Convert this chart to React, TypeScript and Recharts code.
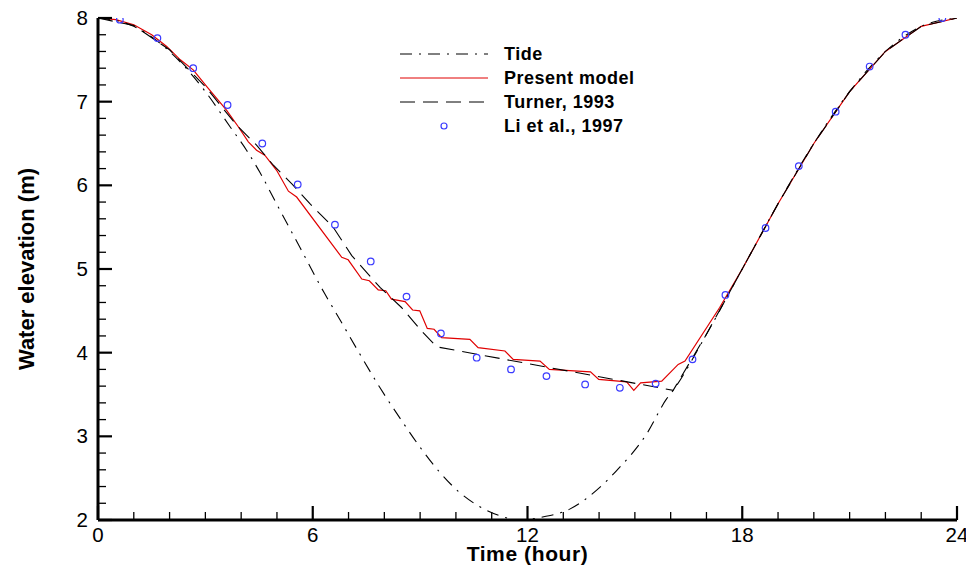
import { ComposedChart, Line, Scatter, XAxis, YAxis, Legend } from 'recharts';

// [time (hour), water elevation (m)]
const tide: [number, number][] = [
  [0, 8.0], [1, 7.9], [2, 7.6], [3, 7.12], [3.69, 6.7], [4.15, 6.42], [4.53, 6.15], [5, 5.77],
  [5.64, 5.26], [6.34, 4.7], [6.67, 4.46], [7.32, 3.98], [7.88, 3.58], [8.48, 3.19],
  [9.05, 2.84], [9.55, 2.57], [10.1, 2.33], [10.62, 2.17], [11.23, 2.05], [11.79, 2.0],
  [12.35, 2.03], [13.18, 2.13], [14.02, 2.39], [14.49, 2.59], [15.33, 3.03], [15.89, 3.45],
  [16.07, 3.55], [17, 4.22], [18, 5.0], [19, 5.78], [20, 6.5], [21, 7.12], [22, 7.6],
  [23, 7.9], [24, 8.0],
];

const presentModel: [number, number][] = [
  [0, 8.0], [0.5, 7.98], [1, 7.92], [1.5, 7.8], [1.92, 7.66], [2.3, 7.5], [2.66, 7.38],
  [3.04, 7.18], [3.59, 6.9], [3.92, 6.7], [4.2, 6.52], [4.43, 6.42], [4.66, 6.36],
  [4.99, 6.18], [5.32, 5.93], [5.55, 5.86], [6.81, 5.14], [6.99, 5.11], [7.37, 4.88],
  [7.58, 4.86], [7.83, 4.75], [8.04, 4.74], [8.2, 4.64], [8.58, 4.61], [8.79, 4.51],
  [8.99, 4.5], [9.2, 4.29], [9.39, 4.28], [9.6, 4.18], [10.39, 4.16], [10.62, 4.06],
  [11.37, 4.02], [11.6, 3.92], [12.35, 3.9], [12.61, 3.8], [13.76, 3.77], [13.99, 3.68],
  [14.77, 3.65], [14.97, 3.55], [15.16, 3.64], [15.75, 3.66], [16.21, 3.86], [16.4, 3.9],
  [17.37, 4.54], [18, 5.0], [19, 5.78], [20, 6.5], [21, 7.12], [22, 7.6], [23, 7.9], [24, 8.0],
];

const turner: [number, number][] = [
  [0, 8.0], [1, 7.91], [2, 7.62], [3, 7.18], [3.87, 6.72], [4.43, 6.48], [4.9, 6.24],
  [5.41, 6.02], [5.92, 5.78], [6.57, 5.5], [7.09, 5.16], [7.88, 4.78], [8.48, 4.54],
  [9.04, 4.26], [9.46, 4.07], [12, 3.87], [16.07, 3.55], [17, 4.22], [18, 5.0], [19, 5.78],
  [20, 6.5], [21, 7.12], [22, 7.6], [23, 7.9], [24, 8.0],
];

const li1997: [number, number][] = [
  [0.61, 7.98], [1.66, 7.76], [2.66, 7.4], [3.62, 6.96], [4.59, 6.5], [5.58, 6.01],
  [6.62, 5.53], [7.62, 5.09], [8.62, 4.67], [9.58, 4.23], [10.58, 3.94], [11.54, 3.8],
  [12.53, 3.72], [13.61, 3.62], [14.58, 3.58], [15.58, 3.63], [16.61, 3.92], [17.53, 4.69],
  [18.65, 5.49], [19.58, 6.23], [20.61, 6.88], [21.56, 7.42], [22.56, 7.8], [23.59, 8.0],
];

const xMajor = [0, 6, 12, 18, 24];
const yMajor = [2, 3, 4, 5, 6, 7, 8];

const xTicks = Array.from({ length: 25 }, (_, i) => i);
const yTicks = Array.from({ length: 31 }, (_, i) => Math.round((2 + i * 0.2) * 10) / 10);

const FONT = "'Liberation Sans', Arial, sans-serif";
const RED = '#e00000';
const BLUE = '#3a3aff';
const TIDE_DASH = '12 7 2 7';
const TURNER_DASH = '15 8';

const pts = (arr: [number, number][]) => arr.map(([t, v]) => ({ t, v }));

const XTick = ({ x, y, payload }: any) => {
  const major = xMajor.includes(payload.value);
  return (
    <g>
      <line x1={x} x2={x} y1={y} y2={y - (major ? 14 : 8)} stroke="#000" strokeWidth={major ? 2.2 : 1.3} />
      {major && (
        <text x={x} y={y + 22} textAnchor="middle" fontFamily={FONT} fontSize={20.5} fill="#000">
          {payload.value}
        </text>
      )}
    </g>
  );
};

const YTick = ({ x, y, payload }: any) => {
  const major = yMajor.includes(payload.value);
  return (
    <g>
      <line x1={x} x2={x + (major ? 14 : 8)} y1={y} y2={y} stroke="#000" strokeWidth={major ? 2.2 : 1.3} />
      {major && (
        <text x={x - 10} y={y + 7} textAnchor="end" fontFamily={FONT} fontSize={20.5} fill="#000">
          {payload.value}
        </text>
      )}
    </g>
  );
};

const LegendBox = () => {
  const rows = [
    { name: 'Tide', kind: 'tide' },
    { name: 'Present model', kind: 'model' },
    { name: 'Turner, 1993', kind: 'turner' },
    { name: 'Li et al., 1997', kind: 'li' },
  ];
  return (
    <svg width={260} height={100}>
      {rows.map((r, i) => {
        const cy = 14 + i * 24;
        return (
          <g key={r.name}>
            {r.kind === 'tide' && <line x1={0} x2={88} y1={cy} y2={cy} stroke="#000" strokeWidth={1} strokeDasharray={TIDE_DASH} />}
            {r.kind === 'model' && <line x1={0} x2={88} y1={cy} y2={cy} stroke={RED} strokeWidth={1} />}
            {r.kind === 'turner' && <line x1={0} x2={88} y1={cy} y2={cy} stroke="#000" strokeWidth={1} strokeDasharray={TURNER_DASH} />}
            {r.kind === 'li' && <circle cx={44} cy={cy} r={3} fill="none" stroke={BLUE} strokeWidth={1.2} />}
            <text x={104} y={cy + 6} fontFamily={FONT} fontSize={18} fontWeight="bold" letterSpacing={0.5} fill="#000">
              {r.name}
            </text>
          </g>
        );
      })}
    </svg>
  );
};

const Circle = ({ cx, cy }: any) => <circle cx={cx} cy={cy} r={3.3} fill="none" stroke={BLUE} strokeWidth={1.2} />;

export default function App() {
  return (
    <div style={{ position: 'absolute', left: 0, top: 0, width: 966, height: 566, background: '#fff' }}>
      <ComposedChart width={966} height={566} margin={{ top: 18, right: 9, bottom: 0, left: 0 }}>
        <XAxis
          dataKey="t"
          type="number"
          domain={[0, 24]}
          ticks={xTicks}
          interval={0}
          allowDataOverflow
          height={46}
          tickSize={0}
          tickMargin={0}
          tick={<XTick />}
          axisLine={{ stroke: '#000', strokeWidth: 3 }}
          label={{
            content: ({ viewBox }: any) => (
              <text
                x={viewBox.x + viewBox.width / 2}
                y={viewBox.y + 41}
                textAnchor="middle"
                fontFamily={FONT}
                fontSize={21}
                fontWeight="bold"
                letterSpacing={0.6}
                fill="#000"
              >
                Time (hour)
              </text>
            ),
          }}
        />
        <YAxis
          dataKey="v"
          type="number"
          domain={[2, 8]}
          ticks={yTicks}
          interval={0}
          allowDataOverflow
          width={98}
          tickSize={0}
          tickMargin={0}
          tick={<YTick />}
          axisLine={{ stroke: '#000', strokeWidth: 3 }}
          label={{
            content: ({ viewBox }: any) => (
              <text
                transform={`translate(${viewBox.x + 34}, ${viewBox.y + viewBox.height / 2}) rotate(-90)`}
                textAnchor="middle"
                fontFamily={FONT}
                fontSize={22}
                fontWeight="bold"
                fill="#000"
              >
                Water elevation (m)
              </text>
            ),
          }}
        />
        <Legend
          layout="vertical"
          align="center"
          verticalAlign="middle"
          content={() => <LegendBox />}
          wrapperStyle={{ left: 400, top: 40, width: 260 }}
        />
        <Line data={pts(presentModel)} dataKey="v" name="Present model" type="linear" stroke={RED} strokeWidth={1.2} dot={false} isAnimationActive={false} />
        <Line data={pts(tide)} dataKey="v" name="Tide" type="monotone" stroke="#000" strokeWidth={1.1} strokeDasharray={TIDE_DASH} dot={false} isAnimationActive={false} />
        <Line data={pts(turner)} dataKey="v" name="Turner, 1993" type="linear" stroke="#000" strokeWidth={1.1} strokeDasharray={TURNER_DASH} dot={false} isAnimationActive={false} />
        <Scatter data={pts(li1997)} dataKey="v" name="Li et al., 1997" shape={<Circle />} isAnimationActive={false} />
      </ComposedChart>
    </div>
  );
}
